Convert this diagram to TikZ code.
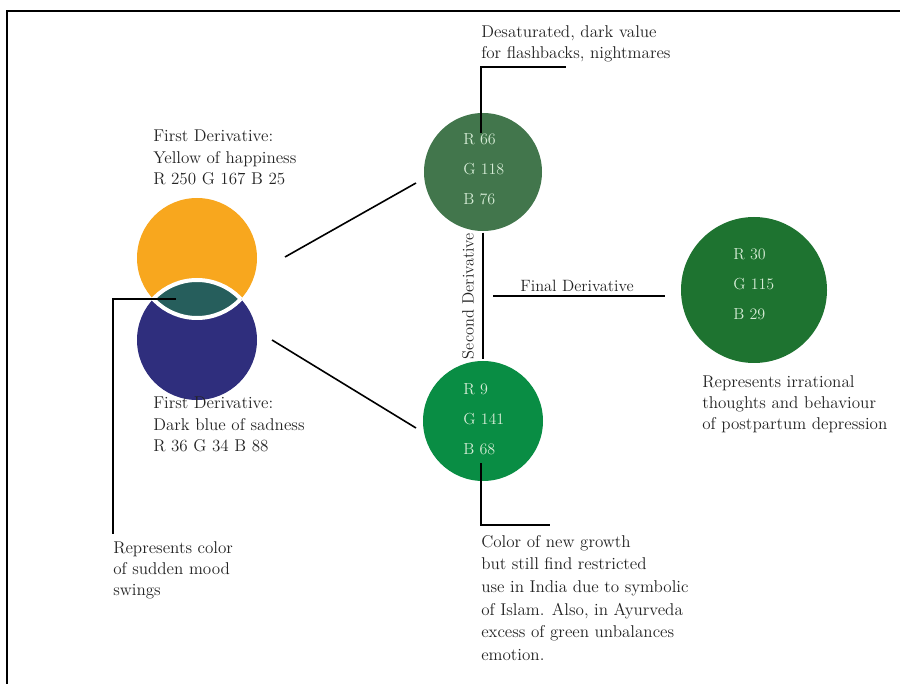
\documentclass[tikz,border=0pt]{standalone}
\begin{document}
\definecolor{happy}{RGB}{248,167,30}
\definecolor{sad}{RGB}{47,46,125}
\definecolor{swing}{RGB}{38,94,92}
\definecolor{flash}{RGB}{66,118,76}
\definecolor{growth}{RGB}{9,141,68}
\definecolor{final}{RGB}{30,115,48}
\definecolor{txtgray}{RGB}{35,35,35}
\definecolor{rgbtext}{RGB}{214,236,214}
\begin{tikzpicture}[x=0.75pt,y=-0.75pt,
  note/.style={font=\fontsize{12.8}{16}\selectfont, text=txtgray, align=left, inner sep=0pt, anchor=north west},
  rgbval/.style={font=\fontsize{12}{22.5}\selectfont, text=rgbtext, align=left, inner sep=0pt, anchor=north west},
  axislbl/.style={font=\fontsize{12.3}{14}\selectfont, text=txtgray, inner sep=0pt},
  dot/.style={circle, inner sep=0pt},
  leader/.style={line width=1.2pt, black}]
\useasboundingbox (0,0) rectangle (900,684);

% frame
\draw[line width=1.5pt] (7,684) -- (7,11) -- (900,11);

% first derivatives (overlapping circles)
\node[dot, fill=happy, minimum size=90pt] (yellow) at (197,258) {};
\node[dot, fill=sad, minimum size=90pt] (blue) at (197,340) {};
\begin{scope}
  \clip (197,258) circle[radius=60];
  \draw[fill=swing, draw=white, line width=3pt] (197,340) circle[radius=60];
\end{scope}
\begin{scope}
  \clip (197,340) circle[radius=60];
  \draw[draw=white, line width=3pt] (197,258) circle[radius=60];
\end{scope}

% second and final derivatives
\node[dot, fill=flash, minimum size=88.5pt] (g1) at (483,172) {};
\node[dot, fill=growth, minimum size=90pt] (g2) at (483,421) {};
\node[dot, fill=final, minimum size=109.5pt] (g3) at (754,290) {};

\node[rgbval] (g1val) at (463,133) {R 66\\G 118\\B 76};
\node[rgbval] (g2val) at (463,383) {R 9\\G 141\\B 68};
\node[rgbval] (g3val) at (733,248) {R 30\\G 115\\B 29};

% labels
\node[note] (yellowtxt) at (153,130) {First Derivative:\\Yellow of happiness\\R 250 G 167 B 25};
\node[note] (bluetxt) at (153,397) {First Derivative:\\Dark blue of sadness\\R 36 G 34 B 88};
\node[note] (swingtxt) at (113,541) {Represents color\\of sudden mood\\swings};
\node[note] (flashtxt) at (481,25) {Desaturated, dark value\\for flashbacks, nightmares};
\node[note, font=\fontsize{12.8}{17}\selectfont] (growthtxt) at (481,535) {Color of new growth\\but still find restricted\\use in India due to symbolic\\of Islam. Also, in Ayurveda\\excess of green unbalances\\emotion.};
\node[note] (finaltxt) at (702,375) {Represents irrational\\thoughts and behaviour\\of postpartum depression};
\node[axislbl, anchor=base] (finallbl) at (577,292) {Final Derivative};
\node[axislbl, rotate=90] (secondlbl) at (468,296) {Second Derivative};

% connector end points
\coordinate (v1) at (285,257);
\coordinate (v1e) at (416,183);
\coordinate (v2) at (272,340);
\coordinate (v2e) at (416,428);
\coordinate (lensdot) at (176,299);
\coordinate (g1dot) at (481,133);
\coordinate (g1end) at (566,67);
\coordinate (g2dot) at (481,463);
\coordinate (g2end) at (550,525);
\coordinate (fd) at (493,296);

% connectors
\draw[leader] (v1) -- (v1e);
\draw[leader] (v2) -- (v2e);
\draw[leader, shorten >=1pt, shorten <=1pt] (g1.south) -- (g2.north);
\draw[leader, shorten >=12pt] (fd) -- (fd -| g3.west);
\draw[leader, shorten >=5pt] (lensdot) -| (swingtxt.north west);
\draw[leader] (g1dot) |- (g1end);
\draw[leader] (g2dot) |- (g2end);
\end{tikzpicture}
\end{document}
